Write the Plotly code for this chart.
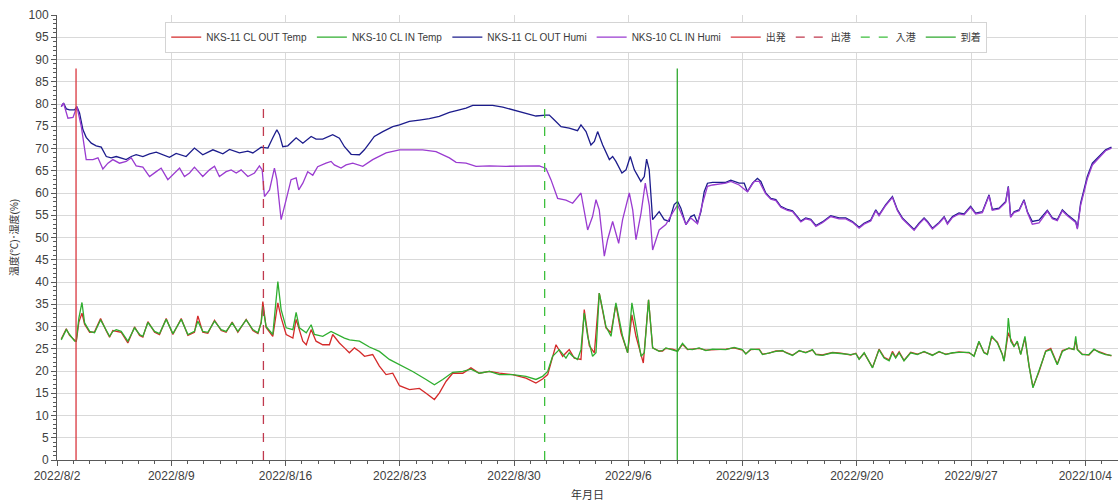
import pandas as pd
import plotly.graph_objects as go

BASE = pd.Timestamp("2022-08-02")

# ---- series data: (days since 2022/8/2, value) ----
out_humi_days = [0.26, 0.40, 0.57, 0.77, 1.08, 1.22, 1.38, 1.59, 1.79, 2.10, 2.40, 2.71, 3.02, 3.32, 3.63, 3.93,
                 4.24, 4.55, 4.85, 5.26, 5.67, 6.08, 6.49, 6.89, 7.30, 7.91, 8.42, 8.93, 9.55, 10.16, 10.57, 11.18,
                 11.69, 12.00, 12.51, 12.92, 13.22, 13.47, 13.63, 13.83, 14.14, 14.65, 15.06, 15.57, 15.87, 16.28,
                 16.89, 17.30, 17.61, 18.02, 18.53, 18.83, 19.14, 19.44, 19.96, 20.57, 20.98, 21.59, 22.20, 22.81,
                 23.42, 24.04, 24.65, 25.06, 25.47, 26.28, 26.69, 27.31, 27.92, 28.73, 29.34, 29.96, 30.16, 30.47,
                 30.88, 31.38, 31.89, 32.10, 32.41, 32.71, 32.92, 33.12, 33.43, 33.84, 34.04, 34.24, 34.61, 34.86,
                 35.12, 35.37, 35.77, 35.98, 36.12, 36.28, 36.49, 36.89, 37.20, 37.50, 37.81, 38.02, 38.22, 38.53,
                 38.83, 39.04, 39.24, 39.45, 39.65, 39.85, 40.16, 40.97, 41.28, 41.79, 42.10, 42.30, 42.61, 42.91,
                 43.12, 43.42, 43.73, 44.04, 44.34, 44.75, 45.06, 45.36, 45.57, 45.87, 46.18, 46.49, 46.89, 47.40,
                 47.91, 48.32, 48.73, 49.14, 49.44, 49.85, 50.16, 50.36, 50.77, 51.18, 51.49, 51.79, 52.20, 52.51,
                 52.81, 53.12, 53.33, 53.63, 54.04, 54.35, 54.55, 54.86, 55.26, 55.57, 55.97, 56.28, 56.69, 57.10,
                 57.30, 57.71, 58.12, 58.28, 58.42, 58.63, 58.94, 59.24, 59.45, 59.75, 60.16, 60.67, 60.98, 61.28,
                 61.59, 61.90, 62.41, 62.51, 62.71, 63.12, 63.43, 63.84, 64.24, 64.60]
out_humi_vals = [79.4, 80.2, 78.9, 78.7, 78.7, 79.4, 78.0, 74.2, 72.5, 71.2, 70.6, 70.3, 68.2, 67.9, 68.2, 67.9,
                 67.5, 68.2, 68.6, 68.2, 68.8, 69.2, 68.6, 68.0, 68.9, 68.2, 70.1, 68.6, 69.7, 68.8, 69.8, 69.0,
                 69.4, 69.0, 70.3, 70.1, 72.4, 74.2, 73.1, 70.4, 70.6, 72.4, 71.2, 72.7, 72.1, 72.1,
                 73.1, 72.3, 70.4, 68.7, 68.6, 69.7, 71.2, 72.7, 73.8, 74.9, 75.3, 76.1, 76.4, 76.7,
                 77.2, 78.1, 78.7, 79.1, 79.7, 79.8, 79.7, 79.3, 78.7, 77.8, 77.3, 77.5, 77.5, 76.4,
                 74.9, 74.6, 74.0, 75.3, 73.8, 70.8, 71.6, 73.8, 70.8, 67.5, 68.2, 67.1, 64.5, 65.2,
                 68.2, 65.2, 62.6, 63.7, 67.6, 65.2, 54.0, 55.8, 54.0, 53.6, 57.4, 58.1, 56.6, 52.9,
                 54.7, 55.1, 53.3, 55.8, 60.3, 62.2, 62.4, 62.4, 62.9, 62.2, 62.2, 60.3, 62.2, 63.3,
                 62.6, 60.0, 58.8, 58.5, 57.0, 56.3, 56.0, 54.7, 53.7, 54.4, 54.1, 52.7, 53.5, 54.9,
                 54.4, 54.4, 53.6, 52.3, 53.2, 53.9, 56.2, 55.1, 57.4, 59.2, 56.2, 54.4, 52.9, 51.8,
                 53.2, 54.4, 53.6, 52.1, 53.4, 54.7, 53.2, 54.7, 55.5, 55.3, 57.0, 55.5, 55.8, 59.6,
                 56.3, 56.6, 58.1, 61.5, 54.7, 55.8, 56.2, 58.5, 55.8, 53.6, 53.9, 56.1, 54.4, 54.0,
                 56.2, 55.1, 53.6, 52.1, 57.7, 63.7, 66.7, 68.2, 69.7, 70.3]

in_humi_days = [0.26, 0.40, 0.67, 0.98, 1.22, 1.49, 1.79, 2.20, 2.51, 2.81, 3.12, 3.42, 3.83, 4.24, 4.55, 4.85,
                5.26, 5.67, 6.08, 6.38, 6.79, 7.20, 7.51, 7.81, 8.12, 8.42, 8.93, 9.34, 9.65, 9.95, 10.36, 10.67,
                10.98, 11.28, 11.69, 12.10, 12.40, 12.57, 12.71, 13.02, 13.32, 13.47, 13.73, 14.04, 14.34, 14.65,
                14.81, 15.06, 15.36, 15.67, 15.97, 16.48, 16.79, 16.99, 17.40, 17.71, 18.12, 18.73, 19.34, 20.16,
                20.98, 21.59, 22.40, 23.22, 23.63, 24.04, 24.45, 25.06, 25.67, 26.49, 27.51, 28.73, 29.55, 29.96,
                30.26, 30.67, 31.18, 31.59, 32.10, 32.51, 32.81, 33.02, 33.22, 33.53, 33.73, 34.04, 34.41, 34.65,
                35.06, 35.27, 35.47, 35.78, 36.04, 36.29, 36.49, 36.89, 37.30, 37.71, 38.02, 38.33, 38.53, 38.83,
                39.24, 39.55, 39.85, 40.16, 40.97, 41.28, 41.79, 42.30, 42.71, 43.02, 43.42, 43.73, 44.04, 44.34,
                44.75, 45.06, 45.36, 45.57, 45.87, 46.18, 46.49, 46.89, 47.40, 47.91, 48.32, 48.73, 49.14, 49.44,
                49.85, 50.16, 50.36, 50.77, 51.18, 51.49, 51.79, 52.20, 52.51, 52.81, 53.12, 53.33, 53.63, 54.04,
                54.35, 54.55, 54.86, 55.26, 55.57, 55.97, 56.28, 56.69, 57.10, 57.30, 57.71, 58.12, 58.28, 58.42,
                58.63, 58.94, 59.24, 59.45, 59.75, 60.16, 60.67, 60.98, 61.28, 61.59, 61.90, 62.41, 62.51, 62.71,
                63.12, 63.43, 63.84, 64.24, 64.60]
in_humi_vals = [79.4, 80.2, 76.8, 77.0, 79.4, 74.9, 67.5, 67.5, 67.9, 65.4, 66.7, 67.5, 66.7, 67.1, 67.9, 66.1,
                65.8, 63.7, 64.8, 65.6, 63.0, 64.5, 65.6, 63.7, 64.5, 65.8, 63.7, 65.2, 66.0, 63.7, 64.8, 65.2,
                64.5, 65.2, 63.7, 64.5, 66.1, 65.2, 59.2, 60.7, 65.6, 63.0, 54.0, 58.5, 63.0, 63.4,
                60.7, 62.2, 64.8, 64.0, 65.9, 66.7, 67.1, 66.3, 65.6, 66.3, 66.7, 66.0, 67.5, 69.0,
                69.7, 69.7, 69.7, 69.3, 68.6, 67.9, 66.9, 66.7, 66.0, 66.1, 66.0, 66.0, 66.1, 65.5,
                63.0, 58.8, 58.4, 57.7, 60.0, 51.7, 54.7, 58.5, 56.2, 45.8, 49.5, 53.6, 48.7, 54.0,
                60.0, 56.2, 49.5, 55.5, 62.2, 57.1, 47.2, 51.7, 52.9, 55.5, 57.3, 54.7, 52.9, 54.4,
                53.1, 57.7, 61.5, 61.8, 62.2, 62.6, 61.8, 60.3, 62.6, 62.6, 59.8, 58.6, 58.3, 56.8,
                56.1, 55.8, 54.5, 53.5, 54.2, 53.9, 52.5, 53.3, 54.7, 54.2, 54.2, 53.4, 52.1, 53.0,
                53.7, 56.0, 54.9, 57.2, 59.0, 56.0, 54.2, 52.7, 51.6, 53.0, 54.2, 53.4, 51.9, 53.2,
                54.5, 53.0, 54.5, 55.3, 55.1, 56.8, 55.3, 55.6, 59.4, 56.1, 56.4, 57.9, 61.3, 54.5,
                55.6, 56.0, 58.3, 55.6, 53.0, 53.3, 55.9, 54.2, 53.8, 56.0, 54.9, 53.4, 51.9, 57.2,
                63.2, 66.3, 67.9, 69.5, 70.1]

in_temp_days = [0.26, 0.57, 0.77, 1.08, 1.18, 1.34, 1.53, 1.69, 2.00, 2.30, 2.67, 3.02, 3.22, 3.42, 3.63, 3.93,
                4.34, 4.75, 5.06, 5.26, 5.57, 5.98, 6.28, 6.69, 7.10, 7.61, 8.02, 8.42, 8.63, 8.93, 9.24, 9.65,
                10.06, 10.36, 10.73, 11.08, 11.59, 12.00, 12.31, 12.51, 12.61, 12.81, 13.22, 13.53, 13.73, 14.04,
                14.45, 14.65, 14.85, 15.27, 15.57, 15.77, 16.28, 16.79, 17.30, 17.61, 17.92, 18.53, 19.14, 19.75,
                20.36, 20.98, 21.79, 22.61, 23.12, 23.63, 24.24, 24.86, 25.36, 25.87, 26.49, 27.10, 27.91, 28.73,
                29.34, 29.75, 30.06, 30.36, 30.77, 31.18, 31.38, 31.59, 31.89, 32.10, 32.30, 32.51, 32.81, 33.02,
                33.22, 33.43, 33.63, 33.94, 34.24, 34.45, 34.65, 34.96, 35.22, 35.47, 35.78, 35.98, 36.24, 36.38,
                36.49, 36.89, 37.10, 37.30, 37.71, 38.02, 38.32, 38.63, 38.93, 39.34, 39.75, 40.16, 40.98, 41.48,
                41.99, 42.20, 42.50, 43.02, 43.22, 43.63, 44.04, 44.44, 44.65, 45.06, 45.47, 45.87, 46.28, 46.49,
                46.89, 47.51, 48.02, 48.63, 48.94, 49.14, 49.45, 49.96, 50.36, 50.67, 50.98, 51.18, 51.38, 51.59,
                51.89, 52.30, 52.71, 53.12, 53.63, 54.04, 54.45, 54.86, 55.26, 55.87, 56.18, 56.48, 56.79, 57.00,
                57.26, 57.61, 57.91, 58.02, 58.22, 58.28, 58.43, 58.63, 58.83, 59.04, 59.30, 59.55, 59.79, 60.16,
                60.57, 60.88, 61.28, 61.59, 61.99, 62.30, 62.41, 62.51, 62.81, 63.22, 63.53, 63.84, 64.24, 64.60]
in_temp_vals = [27.0, 29.3, 28.2, 26.7, 26.7, 31.9, 35.4, 30.8, 28.9, 28.6, 31.5, 29.3, 27.8, 28.9, 29.3, 28.9,
                26.7, 29.7, 28.2, 27.8, 30.9, 28.9, 28.4, 31.6, 28.4, 31.6, 28.2, 28.9, 31.2, 28.9, 28.7, 31.2,
                29.3, 28.9, 30.8, 28.9, 31.5, 29.3, 28.6, 30.8, 34.5, 30.0, 28.2, 40.1, 33.8, 29.7,
                29.3, 33.2, 29.7, 28.6, 30.4, 28.2, 27.8, 28.9, 27.9, 27.4, 27.0, 26.7, 25.4, 24.4,
                22.6, 21.4, 19.9, 18.1, 16.9, 18.1, 19.7, 19.9, 20.4, 19.5, 19.9, 19.2, 19.2, 18.8,
                18.1, 18.8, 19.9, 23.3, 24.8, 22.9, 24.1, 23.3, 22.6, 24.8, 33.0, 27.8, 23.3, 24.1,
                37.5, 33.8, 30.0, 27.8, 35.3, 31.5, 27.8, 24.1, 35.3, 30.0, 23.3, 24.1, 36.0, 30.0,
                25.2, 24.4, 24.6, 25.2, 24.8, 24.4, 26.2, 24.9, 24.8, 25.2, 24.6, 24.9, 24.8, 25.3,
                24.8, 23.8, 24.9, 24.8, 23.7, 24.1, 24.4, 24.6, 24.1, 23.5, 24.6, 24.1, 24.8, 23.7,
                23.5, 24.1, 23.9, 23.7, 23.9, 22.6, 24.1, 20.7, 24.8, 22.9, 22.3, 24.1, 22.9, 24.1,
                22.3, 24.1, 23.7, 24.4, 23.5, 24.4, 23.7, 24.1, 24.2, 24.2, 23.3, 26.7, 24.1, 23.7,
                27.9, 26.3, 23.7, 22.2, 28.2, 31.9, 26.7, 25.5, 26.7, 23.7, 27.8, 21.1, 16.2, 19.9,
                24.4, 24.8, 21.4, 24.4, 25.2, 24.8, 27.8, 24.8, 23.7, 23.7, 24.9, 24.2, 23.7, 23.5]

out_temp_days = [0.26, 0.57, 0.77, 1.08, 1.18, 1.34, 1.53, 1.69, 2.00, 2.30, 2.67, 3.02, 3.22, 3.42, 3.63, 3.93,
                 4.34, 4.75, 5.06, 5.26, 5.57, 5.98, 6.28, 6.69, 7.10, 7.61, 8.02, 8.42, 8.63, 8.93, 9.24, 9.65,
                 10.06, 10.36, 10.73, 11.08, 11.59, 12.00, 12.31, 12.51, 12.61, 12.81, 13.22, 13.53, 13.73, 14.04,
                 14.45, 14.65, 15.06, 15.27, 15.57, 15.87, 16.28, 16.69, 16.89, 17.30, 17.61, 17.91, 18.22, 18.53,
                 18.84, 19.34, 19.75, 20.16, 20.57, 20.98, 21.59, 22.20, 22.61, 23.12, 23.43, 23.84, 24.24, 24.86,
                 25.36, 25.87, 26.49, 27.10, 27.91, 28.73, 29.34, 29.75, 30.06, 30.57, 30.98, 31.38, 31.69, 32.10,
                 32.30, 32.61, 32.92, 33.22, 33.63, 33.94, 34.24, 34.55, 34.96, 35.22, 35.47, 35.92, 36.24, 36.49,
                 36.89, 37.10, 37.30, 37.71, 38.02, 38.32, 38.63, 38.93, 39.34, 39.75, 40.16, 40.98, 41.48, 41.99,
                 42.20, 42.50, 43.02, 43.22, 43.63, 44.04, 44.44, 44.65, 45.06, 45.47, 45.87, 46.28, 46.49, 46.89,
                 47.51, 48.02, 48.63, 48.94, 49.14, 49.45, 49.96, 50.36, 50.67, 50.98, 51.18, 51.38, 51.59, 51.89,
                 52.30, 52.71, 53.12, 53.63, 54.04, 54.45, 54.86, 55.26, 55.87, 56.18, 56.48, 56.79, 57.00, 57.26,
                 57.61, 57.91, 58.02, 58.22, 58.28, 58.43, 58.63, 58.83, 59.04, 59.30, 59.55, 59.79, 60.16, 60.57,
                 60.88, 61.28, 61.59, 61.99, 62.30, 62.41, 62.51, 62.81, 63.22, 63.53, 63.84, 64.24, 64.60]
out_temp_vals = [27.2, 29.5, 28.0, 26.8, 26.6, 31.0, 33.0, 30.5, 28.7, 28.8, 31.8, 29.0, 27.6, 29.1, 29.0, 28.7,
                 26.3, 29.9, 28.0, 27.6, 31.1, 28.7, 28.2, 31.8, 28.2, 31.8, 28.0, 28.7, 32.4, 28.7, 28.5, 31.4,
                 29.1, 28.7, 31.0, 28.7, 31.6, 29.1, 28.4, 31.0, 35.6, 29.8, 27.8, 35.3, 32.0, 28.2,
                 27.4, 31.6, 26.7, 25.9, 29.3, 26.7, 25.9, 25.9, 28.2, 26.3, 25.2, 24.1, 25.2, 24.4,
                 23.3, 23.7, 21.1, 19.2, 19.5, 16.7, 15.8, 16.1, 15.0, 13.6, 15.1, 17.7, 19.5, 19.5,
                 20.7, 19.5, 19.9, 19.5, 19.2, 18.4, 17.3, 18.2, 19.2, 25.9, 23.3, 24.8, 22.9, 22.6,
                 33.8, 25.7, 24.1, 37.5, 29.7, 28.6, 35.0, 28.6, 24.1, 32.6, 27.8, 21.8, 36.0, 25.2,
                 24.5, 24.5, 25.1, 24.9, 24.5, 26.0, 24.8, 24.9, 25.1, 24.7, 24.8, 24.9, 25.2, 24.7,
                 23.9, 24.8, 24.9, 23.8, 24.0, 24.5, 24.5, 24.2, 23.6, 24.5, 24.2, 24.7, 23.8, 23.6,
                 24.2, 24.0, 23.6, 24.0, 22.7, 24.0, 20.8, 24.9, 23.1, 22.5, 24.4, 23.1, 24.3, 22.4,
                 24.2, 23.8, 24.3, 23.6, 24.3, 23.8, 24.0, 24.3, 24.1, 23.4, 26.5, 24.2, 23.8, 27.6,
                 26.5, 23.8, 22.3, 28.0, 28.6, 27.2, 25.6, 26.5, 23.8, 27.4, 21.2, 16.4, 19.8, 24.5,
                 25.1, 21.6, 24.6, 25.1, 24.9, 26.9, 24.9, 23.8, 23.6, 24.8, 24.3, 23.8, 23.4]

# ---- event markers (vertical lines) ----
event_names = ["出発", "出港", "入港", "到着"]
event_times = ["2022-08-03 04:00", "2022-08-14 15:30", "2022-08-31 21:00", "2022-09-09 00:00"]
event_tops = [88, 80, 80, 88]
event_colors = ["#d9363e", "#c0394e", "#3cbf3c", "#2ea82e"]
event_dashes = ["solid", "dash", "dash", "solid"]

# ---- axis ticks ----
x_tick_dates = ["2022-08-02", "2022-08-09", "2022-08-16", "2022-08-23", "2022-08-30",
                "2022-09-06", "2022-09-13", "2022-09-20", "2022-09-27", "2022-10-04"]
x_tick_labels = ["2022/8/2", "2022/8/9", "2022/8/16", "2022/8/23", "2022/8/30",
                 "2022/9/6", "2022/9/13", "2022/9/20", "2022/9/27", "2022/10/4"]


def to_time(days):
    return BASE + pd.to_timedelta(days, unit="D")


FONT = "Liberation Sans, Noto Sans CJK JP, sans-serif"

fig = go.Figure()

series = [
    ("NKS-11 CL OUT Temp", out_temp_days, out_temp_vals, "#d42a2a"),
    ("NKS-10 CL IN Temp", in_temp_days, in_temp_vals, "#2fae2f"),
    ("NKS-11 CL OUT Humi", out_humi_days, out_humi_vals, "#1c1c8c"),
    ("NKS-10 CL IN Humi", in_humi_days, in_humi_vals, "#9a3bd0"),
]
for name, days, vals, color in series:
    fig.add_trace(go.Scatter(
        x=to_time(days), y=vals, mode="lines", name=name,
        line=dict(color=color, width=1.3),
    ))

for name, t, top, color, dash in zip(event_names, event_times, event_tops, event_colors, event_dashes):
    fig.add_trace(go.Scatter(
        x=[pd.Timestamp(t), pd.Timestamp(t)], y=[0, top], mode="lines", name=name,
        line=dict(color=color, width=1.3, dash=dash),
    ))

fig.update_layout(
    width=1118, height=504,
    margin=dict(l=57, r=0, t=15, b=44),
    paper_bgcolor="white", plot_bgcolor="white",
    font=dict(family=FONT, size=12, color="#333333"),
    showlegend=True,
    legend=dict(
        orientation="h", x=0.102, y=0.985, xanchor="left", yanchor="top",
        bgcolor="white", bordercolor="#d4d4d4", borderwidth=1,
        font=dict(size=10, color="#3a3a3a"), itemwidth=30,
        tracegroupgap=0,
    ),
    xaxis=dict(
        type="date",
        range=[pd.Timestamp("2022-08-02"), pd.Timestamp("2022-10-06")],
        tickvals=[pd.Timestamp(d) for d in x_tick_dates], ticktext=x_tick_labels,
        showgrid=True, gridcolor="#d9d9d9", gridwidth=1,
        showline=True, linecolor="#595959", linewidth=1,
        ticks="outside", ticklen=5, tickcolor="#595959",
        minor=dict(dtick=86400000, ticks="outside", ticklen=3, tickcolor="#595959", showgrid=False),
        tickfont=dict(size=12, color="#404040"),
        title=dict(text="年月日", font=dict(size=11, color="#333333"), standoff=8),
        zeroline=False,
    ),
    yaxis=dict(
        range=[0, 100], dtick=5,
        showgrid=True, gridcolor="#d9d9d9", gridwidth=1,
        showline=True, linecolor="#595959", linewidth=1,
        ticks="outside", ticklen=5, tickcolor="#595959",
        minor=dict(dtick=1, ticks="outside", ticklen=3, tickcolor="#595959", showgrid=False),
        tickfont=dict(size=12, color="#404040"),
        title=dict(text="温度(℃)･湿度(%)", font=dict(size=10, color="#333333"), standoff=8),
        zeroline=False,
    ),
)

fig.write_html("out.html")
